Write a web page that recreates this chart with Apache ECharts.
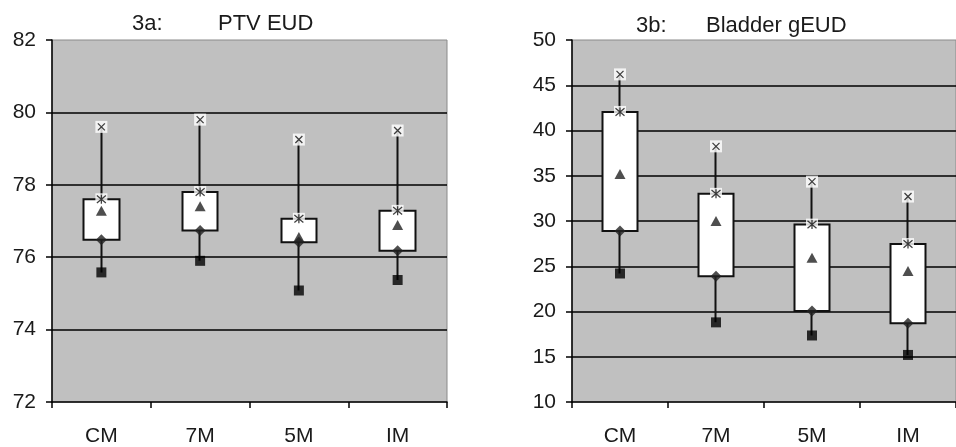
<!DOCTYPE html>
<html>
<head>
<meta charset="utf-8">
<script src="https://cdn.jsdelivr.net/npm/echarts@6/dist/echarts.min.js"></script>
<style>
html,body{margin:0;padding:0;background:#fff;}
#c{width:956px;height:447px;}
</style>
</head>
<body>
<div id="c"></div>
<script>
// ---- Data ----
var categories = ['CM', '7M', '5M', 'IM'];

// 3a: PTV EUD
var ptvMax  = [79.6, 79.8, 79.25, 79.5];
var ptvQ3   = [77.6, 77.8, 77.06, 77.28];
var ptvMean = [77.28, 77.41, 76.56, 76.89];
var ptvQ1   = [76.48, 76.74, 76.41, 76.18];
var ptvMin  = [75.58, 75.9, 75.08, 75.37];

// 3b: Bladder gEUD
var bladMax  = [46.2, 38.25, 34.35, 32.7];
var bladQ3   = [42.05, 33.0, 29.6, 27.45];
var bladMean = [35.2, 30.0, 25.94, 24.47];
var bladQ1   = [28.9, 23.9, 20.05, 18.7];
var bladMin  = [24.2, 18.8, 17.35, 15.2];

var ptvTicks = [72, 74, 76, 78, 80, 82];
var bladTicks = [10, 15, 20, 25, 30, 35, 40, 45, 50];

// ---- Chart ----
var FONT = '"Liberation Sans", Arial, sans-serif';
var TXT = '#1a1a1a';
var chart = echarts.init(document.getElementById('c'));

function candle(hi, q3, q1, lo) {
  return categories.map(function (c, i) { return [q1[i], q3[i], lo[i], hi[i]]; });
}

var xPath = 'path://M0,0L10,10M10,0L0,10';
var starPath = 'path://M0,0L10,10M10,0L0,10M5,-1L5,11';

function seriesFor(idx, hi, q3, mean, q1, lo) {
  var base = {xAxisIndex: idx, yAxisIndex: idx};
  function sc(data, extra) {
    return Object.assign({type: 'scatter', data: data, silent: true}, base, extra);
  }
  return [
    Object.assign({
      type: 'candlestick',
      data: candle(hi, q3, q1, lo),
      barWidth: 36,
      z: 2,
      silent: true,
      itemStyle: {color: '#fff', color0: '#fff', borderColor: '#111', borderColor0: '#111', borderWidth: 2}
    }, base),
    sc(hi, {symbol: 'rect', symbolSize: 12, z: 3, itemStyle: {color: '#fff'}}),
    sc(q3, {symbol: 'rect', symbolSize: 12, z: 3, itemStyle: {color: '#fff'}}),
    sc(hi, {symbol: xPath, symbolSize: 7, z: 5, itemStyle: {color: 'none', borderColor: '#111', borderWidth: 1.3}}),
    sc(q3, {symbol: starPath, symbolSize: 9, z: 5, itemStyle: {color: 'none', borderColor: '#111', borderWidth: 1.3}}),
    sc(mean, {symbol: 'triangle', symbolSize: [11, 10], z: 4, itemStyle: {color: '#222'}}),
    sc(q1, {symbol: 'diamond', symbolSize: [11, 11], z: 4, itemStyle: {color: '#222'}}),
    sc(lo, {symbol: 'rect', symbolSize: 10, z: 4, itemStyle: {color: '#000'}})
  ];
}

function xAx(idx) {
  return {
    type: 'category', gridIndex: idx, data: categories,
    boundaryGap: true,
    axisLine: {lineStyle: {color: '#000', width: 1.5}},
    axisTick: {show: true, length: 6, interval: 0, lineStyle: {color: '#000', width: 1.5}},
    axisLabel: {fontFamily: FONT, fontSize: 21, color: TXT, margin: 24},
    splitLine: {show: false}
  };
}
function yAx(idx, ticks) {
  return {
    type: 'value', gridIndex: idx,
    min: ticks[0], max: ticks[ticks.length - 1], interval: ticks[1] - ticks[0],
    axisLine: {show: true, lineStyle: {color: '#000', width: 1.5}},
    axisTick: {show: true, length: 6, lineStyle: {color: '#000', width: 1.5}},
    axisLabel: {fontFamily: FONT, fontSize: 21, color: TXT, margin: 16},
    splitLine: {show: true, showMinLine: false, showMaxLine: false, lineStyle: {color: '#000', width: 1.5}}
  };
}

var option = {
  animation: false,
  backgroundColor: '#fff',
  grid: [
    {left: 52, top: 40, width: 395, height: 363, show: true, backgroundColor: '#c0c0c0', borderColor: '#8a8a8a', borderWidth: 1},
    {left: 572, top: 40, width: 396, height: 363, show: true, backgroundColor: '#c0c0c0', borderColor: '#8a8a8a', borderWidth: 1}
  ],
  xAxis: [xAx(0), xAx(1)],
  yAxis: [yAx(0, ptvTicks), yAx(1, bladTicks)],
  graphic: [
    {type: 'text', left: 132, top: 13, style: {text: '3a:', font: '22px ' + FONT, fill: TXT}},
    {type: 'text', left: 218, top: 13, style: {text: 'PTV EUD', font: '22px ' + FONT, fill: TXT}},
    {type: 'text', left: 636, top: 15, style: {text: '3b:', font: '22px ' + FONT, fill: TXT}},
    {type: 'text', left: 706, top: 15, style: {text: 'Bladder gEUD', font: '22px ' + FONT, fill: TXT}}
  ],
  series: seriesFor(0, ptvMax, ptvQ3, ptvMean, ptvQ1, ptvMin)
    .concat(seriesFor(1, bladMax, bladQ3, bladMean, bladQ1, bladMin))
};
chart.setOption(option);
</script>
</body>
</html>
